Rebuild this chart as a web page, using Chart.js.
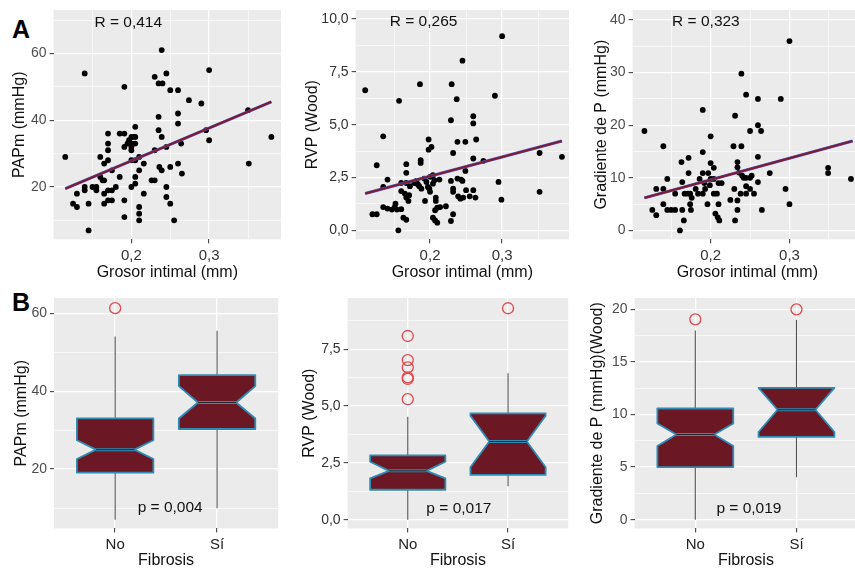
<!DOCTYPE html>
<html>
<head>
<meta charset="utf-8">
<script src="https://cdn.jsdelivr.net/npm/chart.js@4.4.0/dist/chart.umd.min.js"></script>
<style>
html, body { margin: 0; padding: 0; background: #fff; width: 855px; height: 570px; overflow: hidden; }
canvas { position: absolute; }
.tag { position: absolute; font: bold 25px/25px "Liberation Sans", Arial, sans-serif; color: #000; }
</style>
</head>
<body>
<div class="tag" style="left:12px;top:17px">A</div>
<div class="tag" style="left:12px;top:290px">B</div>
<canvas id="c1"></canvas>
<canvas id="c2"></canvas>
<canvas id="c3"></canvas>
<canvas id="c4"></canvas>
<canvas id="c5"></canvas>
<canvas id="c6"></canvas>
<script>
// --- data ---
const fibrosisCats = ['No', 'Sí'];
const grosorTicks = [0.2, 0.3];
const grosorLabels = ['0,2', '0,3'];

const papmX = [0.115,0.14,0.191,0.239,0.23,0.245,0.235,0.24,0.25,0.26, 0.274,0.29,0.3,0.35,0.38,0.351,0.3,0.296,0.26,0.26,
  0.235,0.235,0.239,0.264,0.245,0.23,0.26,0.265,0.25,0.236, 0.239,0.226,0.23,0.245,0.245,0.25,0.255,0.21,0.21,0.21,
  0.191,0.191,0.216,0.205,0.2,0.205,0.21,0.216,0.21,0.205, 0.2,0.205,0.2,0.203,0.205,0.197,0.201,0.205,0.191,0.195,
  0.185,0.191,0.2,0.2,0.185,0.18,0.175,0.17,0.165,0.17, 0.175,0.165,0.17,0.17,0.17,0.17,0.165,0.16,0.16,0.163,
  0.175,0.165,0.15,0.155,0.155,0.14,0.14,0.145,0.13,0.125, 0.13,0.145];
const papmY = [29,54,50,61,53,54,51,51,49,49, 46,45,55,43,35,27,34,37,42,39,
  41,37,35,33,32,31,27,24,26,26, 25,22,22,20,17,15,10,14,12,10,
  11,16,18,21,20,23,25,27,29,28, 28,38,35,35,35,34,33,33,32,33,
  36,36,31,32,23,20,19,19,18,16, 16,15,33,31,36,28,27,29,23,22,
  25,22,20,19,20,20,19,15,18,15, 14,7];
const papmFitX = [0.115, 0.38];
const papmFitY = [19.5, 45.5];

const rvpX = [0.11,0.12,0.126,0.126,0.135,0.135,0.141,0.135,0.141,0.147, 0.151,0.154,0.16,0.163,0.167,0.156,0.16,0.165,0.167,0.17,
  0.171,0.167,0.167,0.16,0.167,0.172,0.178,0.181,0.183,0.185, 0.187,0.187,0.192,0.195,0.197,0.188,0.193,0.198,0.202,0.198,
  0.2,0.204,0.206,0.204,0.199,0.2,0.208,0.208,0.214,0.207, 0.21,0.204,0.207,0.21,0.213,0.222,0.229,0.232,0.229,0.232,
  0.232,0.238,0.249,0.238,0.243,0.245,0.239,0.242,0.246,0.25, 0.229,0.232,0.249,0.26,0.26,0.255,0.263,0.26,0.26,0.264,
  0.274,0.295,0.299,0.157,0.186,0.23,0.245,0.237,0.29,0.3, 0.352,0.383,0.352,0.152];
const rvpY = [6.63,0.76,0.76,3.08,4.45,2.05,2.4,1.1,1.03,0.98, 1.1,0.98,1.0,0.6,0.5,0,1.86,1.74,1.55,1.39,
  1.66,3.13,2.72,2.24,2.24,2.09,2.24,2.34,2.18,2.09, 3.32,3.19,2.45,2.29,2.05,1.97,1.39,4.3,3.95,3.82,
  2.53,2.61,2.37,2.21,1.97,1.82,1.55,1.39,1.1,0.95, 1.07,0.6,0.47,0.36,2.4,1.14,5.21,3.66,2.34,1.97,
  1.82,4.19,4.19,2.45,2.4,2.34,1.61,1.5,1.55,1.9, 0.44,0.76,2.81,3.4,1.9,1.61,1.55,5.4,5.06,4.3,
  3.29,2.29,1.45,6.13,6.92,6.92,8.03,6.21,6.37,9.19, 3.66,3.48,1.82,1.26];
const rvpFitX = [0.11, 0.383];
const rvpFitY = [1.74, 4.23];

const gradX = [0.116,0.14,0.19,0.2,0.19,0.3,0.239,0.245,0.26,0.289, 0.231,0.26,0.264,0.25,0.229,0.239,0.26,0.275,0.295,0.3,
  0.349,0.349,0.378,0.265,0.231,0.161,0.166,0.126,0.131,0.131, 0.14,0.14,0.163,0.172,0.172,0.145,0.145,0.15,0.155,0.155,
  0.164,0.167,0.164,0.171,0.174,0.176,0.174,0.175,0.181,0.186, 0.19,0.192,0.193,0.184,0.196,0.2,0.204,0.197,0.2,0.204,
  0.199,0.21,0.214,0.204,0.208,0.206,0.209,0.211,0.21,0.225, 0.23,0.234,0.234,0.234,0.234,0.236,0.24,0.242,0.245,0.25,
  0.252,0.245,0.238,0.245,0.25,0.255,0.26,0.19];
const gradY = [18.9,16,22.9,17.9,14.9,36,29.8,25.8,25,25, 21.8,20,18.9,18.9,16,16,14,10.9,7.9,5,
  11.9,10.9,9.8,3.9,1.9,0,1.9,3.9,2.9,7.9, 7.9,5,13,13.8,10.9,9.8,3.9,3.9,3.9,7,
  9.2,7,3.9,7,7,6.2,5,3.9,7.9,9.8, 10.9,9,7.9,7,5,12.8,11.9,10.9,9.8,9.8,
  8.6,9,9,7,7,3.2,2.5,1.9,5,5.8, 7.9,5.7,3.9,13,12,11,10.4,10,10,10,
  10.4,8.4,7,7,7.9,7,9.2,7];
const gradFitX = [0.116, 0.38];
const gradFitY = [6.2, 17.0];

// boxes: [whisker low, Q1, median, Q3, whisker high] per category
const papmBoxStats = [[7, 19.1, 25, 33, 54], [10, 30.3, 37.1, 44.1, 55.5]];
const papmNotches = [[22.6, 27.4], [33, 41.3]];
const papmOutliers = [[61.3], []];
const rvpBoxStats = [[0, 1.32, 2.15, 2.83, 4.53], [1.47, 1.97, 3.44, 4.68, 6.44]];
const rvpNotches = [[1.82, 2.55], [2.31, 4.57]];
const rvpOutliers = [[8.08, 7.02, 6.7, 6.26, 6.19, 5.3], [9.3]];
const gradBoxStats = [[0, 5, 8.1, 10.57, 18], [4.04, 7.87, 10.45, 12.53, 19]];
const gradNotches = [[7.0, 9.14], [8.34, 12.53]];
const gradOutliers = [[19.05], [20]];

const rLabels = ['R = 0,414', 'R = 0,265', 'R = 0,323'];
const pLabels = ['p = 0,004', 'p = 0,017', 'p = 0,019'];

// --- drawing ---
const FONT = '"Liberation Sans", Arial, sans-serif';
Chart.defaults.font.family = FONT;
const PAD_TOP = 8;

function same(a, b) { return Math.abs(a - b) < 1e-9; }
function zip(xs, ys) { return xs.map((x, i) => ({x: x, y: ys[i]})); }

function axisCfg(pos, o) {
  const isMajor = c => c.tick && o.major.some(m => same(m, c.tick.value));
  return {
    type: 'linear', position: pos, min: o.min, max: o.max,
    afterBuildTicks: s => {
      s.ticks = o.major.concat(o.minor || []).sort((a, b) => a - b).map(v => ({value: v}));
    },
    afterFit: s => {
      if (pos === 'left') s.width = o.size; else s.height = o.size;
      s.paddingTop = 0; s.paddingBottom = 0; s.paddingLeft = 0; s.paddingRight = 0;
    },
    ticks: {
      autoSkip: false, maxRotation: 0, padding: 3, color: o.tickColor || '#4d4d4d', font: {size: o.tickSize || 14},
      callback: v => {
        const i = o.major.findIndex(m => same(m, v));
        return i < 0 ? '' : o.labels[i];
      }
    },
    grid: {
      color: '#ffffff',
      lineWidth: c => isMajor(c) ? 1.3 : 0.6,
      tickColor: c => isMajor(c) ? '#333333' : 'rgba(0,0,0,0)',
      tickLength: 4, tickWidth: 1
    },
    border: {display: false},
    title: {display: true, text: o.title, color: '#111', font: {size: 16}, padding: 0}
  };
}

const panelBg = {
  id: 'panelBg',
  beforeDraw(chart) {
    const a = chart.chartArea, ctx = chart.ctx;
    ctx.save();
    ctx.fillStyle = '#ebebeb';
    ctx.fillRect(a.left, a.top, a.right - a.left, a.bottom - a.top);
    ctx.restore();
  }
};

function boxPlugin(p) {
  return {
    id: 'notchBoxes',
    beforeDatasetsDraw(chart) {
      if (!p.stats) return;
      const ctx = chart.ctx, sx = chart.scales.x, sy = chart.scales.y;
      const Y = v => sy.getPixelForValue(v);
      p.stats.forEach((s, i) => {
        const c = i + 1;
        const lo = s[0], q1 = s[1], med = s[2], q3 = s[3], hi = s[4];
        const nlo = p.notches[i][0], nhi = p.notches[i][1];
        const x0 = sx.getPixelForValue(c - 0.375), x1 = sx.getPixelForValue(c + 0.375);
        const xc = sx.getPixelForValue(c), ind = (x1 - x0) * 0.25;
        ctx.save();
        ctx.strokeStyle = '#555';
        ctx.lineWidth = 1.1;
        ctx.beginPath();
        ctx.moveTo(xc, Y(hi)); ctx.lineTo(xc, Y(q3));
        ctx.moveTo(xc, Y(q1)); ctx.lineTo(xc, Y(lo));
        ctx.stroke();
        ctx.beginPath();
        ctx.moveTo(x0, Y(q3)); ctx.lineTo(x0, Y(nhi)); ctx.lineTo(x0 + ind, Y(med));
        ctx.lineTo(x0, Y(nlo)); ctx.lineTo(x0, Y(q1)); ctx.lineTo(x1, Y(q1));
        ctx.lineTo(x1, Y(nlo)); ctx.lineTo(x1 - ind, Y(med)); ctx.lineTo(x1, Y(nhi));
        ctx.lineTo(x1, Y(q3)); ctx.closePath();
        ctx.fillStyle = '#6b1824';
        ctx.fill();
        ctx.strokeStyle = '#2f8cb5';
        ctx.lineWidth = 1.8;
        ctx.lineJoin = 'round';
        ctx.stroke();
        ctx.beginPath();
        ctx.moveTo(x0 + ind, Y(med)); ctx.lineTo(x1 - ind, Y(med));
        ctx.strokeStyle = '#2f8cb5'; ctx.lineWidth = 3; ctx.stroke();
        ctx.strokeStyle = '#1f2a33'; ctx.lineWidth = 1; ctx.stroke();
        ctx.restore();
      });
    }
  };
}

function notePlugin(p) {
  return {
    id: 'panelNote',
    afterDatasetsDraw(chart) {
      const ctx = chart.ctx;
      ctx.save();
      ctx.font = '15.5px ' + FONT;
      ctx.fillStyle = '#111';
      ctx.textAlign = 'center';
      ctx.textBaseline = 'middle';
      ctx.fillText(p.text, chart.scales.x.getPixelForValue(p.x), chart.scales.y.getPixelForValue(p.y));
      ctx.restore();
    }
  };
}

function scatterSets(xs, ys, fx, fy) {
  return [
    {data: zip(fx, fy), showLine: true, borderColor: '#7e1c36', borderWidth: 2.2, pointRadius: 0},
    {data: zip(fx, fy), showLine: true, borderColor: '#4a63c8', borderWidth: 3, pointRadius: 0},
    {data: zip(xs, ys), pointRadius: 2.9, backgroundColor: '#000', borderWidth: 0}
  ];
}

function outlierSet(outs) {
  const pts = [];
  outs.forEach((vals, i) => vals.forEach(v => pts.push({x: i + 1, y: v})));
  return [{data: pts, pointRadius: 5.5, borderColor: '#e0484d', backgroundColor: 'rgba(0,0,0,0)', borderWidth: 1.3}];
}

function makePanel(p) {
  const cv = document.getElementById(p.id);
  const l = p.area[0], t = p.area[1], r = p.area[2], b = p.area[3];
  const left = l - p.yAxis.size, top = t - PAD_TOP;
  cv.width = Math.round(r - left);
  cv.height = Math.round(b + p.xAxis.size - top);
  cv.style.left = left + 'px';
  cv.style.top = top + 'px';
  new Chart(cv, {
    type: 'scatter',
    data: {datasets: p.datasets},
    options: {
      responsive: false, animation: false, devicePixelRatio: 1,
      layout: {padding: {top: PAD_TOP, left: 0, right: 0, bottom: 0}},
      scales: {x: axisCfg('bottom', p.xAxis), y: axisCfg('left', p.yAxis)},
      plugins: {legend: {display: false}, tooltip: {enabled: false}}
    },
    plugins: [panelBg, boxPlugin(p.boxes || {}), notePlugin(p.note)]
  });
}

const grosorAxis = (min, max) => ({min: min, max: max, size: 42.6, major: grosorTicks, labels: grosorLabels,
  minor: [0.15, 0.25, 0.35], title: 'Grosor intimal (mm)', tickSize: 15, tickColor: '#333'});
const fibAxis = {min: 0.4, max: 2.6, size: 41.6, major: [1, 2], labels: fibrosisCats, minor: [], title: 'Fibrosis',
  tickSize: 15, tickColor: '#222'};

makePanel({
  id: 'c1', area: [54, 10, 285, 239],
  xAxis: grosorAxis(0.1, 0.3924),
  yAxis: {min: 4.3, max: 73, size: 43.6, major: [20, 40, 60], labels: ['20', '40', '60'], minor: [10, 30, 50, 70], title: 'PAPm (mmHg)'},
  datasets: scatterSets(papmX, papmY, papmFitX, papmFitY),
  note: {text: rLabels[0], x: 0.196, y: 69.1}
});
makePanel({
  id: 'c2', area: [356, 10, 573, 239],
  xAxis: grosorAxis(0.0967, 0.3928),
  yAxis: {min: -0.43, max: 10.43, size: 52.6, major: [0, 2.5, 5, 7.5, 10], labels: ['0,0', '2,5', '5,0', '7,5', '10,0'],
    minor: [1.25, 3.75, 6.25, 8.75], title: 'RVP (Wood)', tickColor: '#333'},
  datasets: scatterSets(rvpX, rvpY, rvpFitX, rvpFitY),
  note: {text: rLabels[1], x: 0.191, y: 9.86}
});
makePanel({
  id: 'c3', area: [633, 10, 866, 239],
  xAxis: grosorAxis(0.101, 0.392),
  yAxis: {min: -1.7, max: 41.9, size: 40.6, major: [0, 10, 20, 30, 40], labels: ['0', '10', '20', '30', '40'],
    minor: [5, 15, 25, 35], title: 'Gradiente de P (mmHg)'},
  datasets: scatterSets(gradX, gradY, gradFitX, gradFitY),
  note: {text: rLabels[2], x: 0.194, y: 39.6}
});
makePanel({
  id: 'c4', area: [54, 298, 285, 528],
  xAxis: fibAxis,
  yAxis: {min: 4.8, max: 63.9, size: 42, major: [20, 40, 60], labels: ['20', '40', '60'], minor: [10, 30, 50], title: 'PAPm (mmHg)'},
  datasets: outlierSet(papmOutliers),
  boxes: {stats: papmBoxStats, notches: papmNotches},
  note: {text: pLabels[0], x: 1.54, y: 10.2}
});
makePanel({
  id: 'c5', area: [348, 298, 575, 528],
  xAxis: fibAxis,
  yAxis: {min: -0.38, max: 9.75, size: 47.6, major: [0, 2.5, 5, 7.5], labels: ['0,0', '2,5', '5,0', '7,5'],
    minor: [1.25, 3.75, 6.25, 8.75], title: 'RVP (Wood)', tickColor: '#333'},
  datasets: outlierSet(rvpOutliers),
  boxes: {stats: rvpBoxStats, notches: rvpNotches},
  note: {text: pLabels[1], x: 1.51, y: 0.5}
});
makePanel({
  id: 'c6', area: [635, 298, 864, 528],
  xAxis: fibAxis,
  yAxis: {min: -0.83, max: 21.08, size: 46.6, major: [0, 5, 10, 15, 20], labels: ['0', '5', '10', '15', '20'],
    minor: [2.5, 7.5, 12.5, 17.5], title: 'Gradiente de P (mmHg)(Wood)'},
  datasets: outlierSet(gradOutliers),
  boxes: {stats: gradBoxStats, notches: gradNotches},
  note: {text: pLabels[2], x: 1.53, y: 1.08}
});
</script>
</body>
</html>
